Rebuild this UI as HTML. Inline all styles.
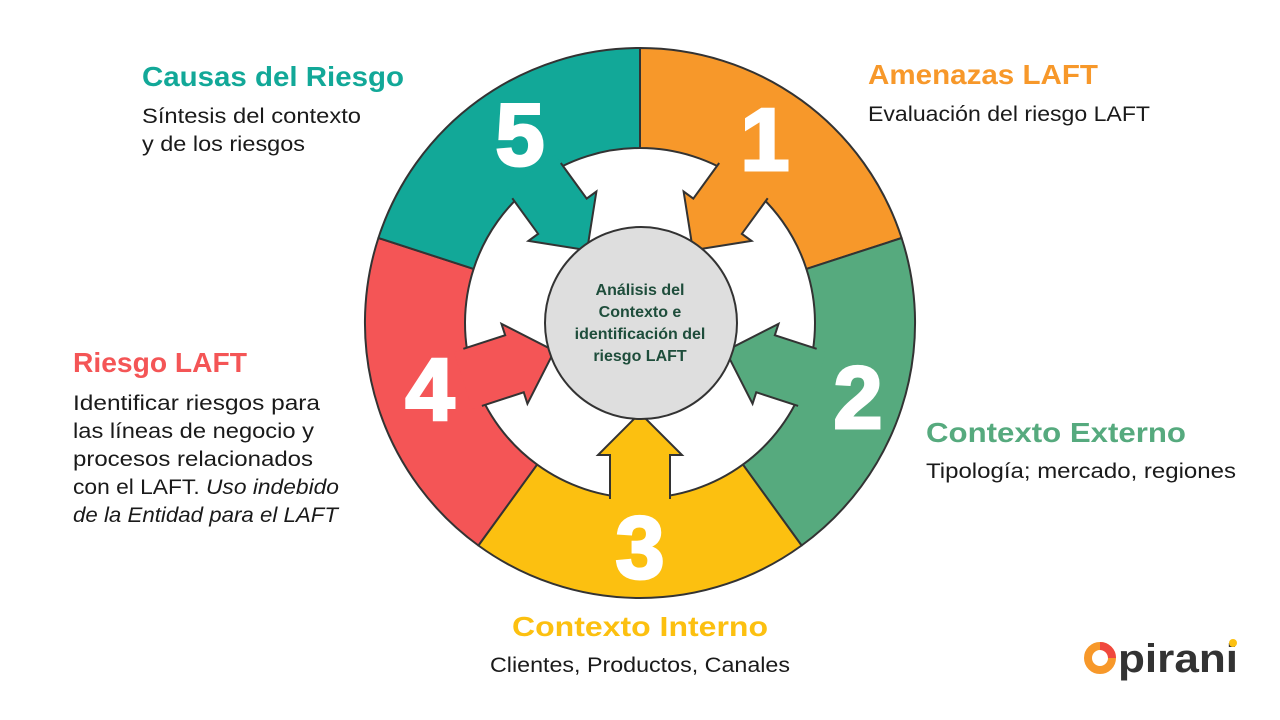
<!DOCTYPE html>
<html><head><meta charset="utf-8"><style>
html,body{margin:0;padding:0;background:#fff;}
svg{display:block;font-family:"Liberation Sans",sans-serif;}
.t{font-weight:bold;font-size:28px;}
.b{font-size:21px;fill:#1a1a1a;}
</style></head><body>
<svg width="1280" height="720" viewBox="0 0 1280 720">
<g stroke="#333" stroke-width="2" stroke-linejoin="round">
<path d="M640,48 A275,275 0 0 1 901.6,238 L806.4,268.9 A175,175 0 0 0 640,148 Z" fill="#F7982A"/>
<path d="M901.6,238 A275,275 0 0 1 801.6,545.5 L742.9,464.6 A175,175 0 0 0 806.4,268.9 Z" fill="#56AA7E"/>
<path d="M801.6,545.5 A275,275 0 0 1 478.4,545.5 L537.1,464.6 A175,175 0 0 0 742.9,464.6 Z" fill="#FCC010"/>
<path d="M478.4,545.5 A275,275 0 0 1 378.4,238 L473.6,268.9 A175,175 0 0 0 537.1,464.6 Z" fill="#F45556"/>
<path d="M378.4,238 A275,275 0 0 1 640,48 L640,148 A175,175 0 0 0 473.6,268.9 Z" fill="#12A898"/>
</g>
<defs>
<g id="af"><path d="M-30,186 L-30,132 L-42,132 L0,90 L42,132 L30,132 L30,186 Z"/></g>
<g id="as"><path d="M-30,176 L-30,132 L-42,132 L0,90 L42,132 L30,132 L30,176" fill="none" stroke="#333" stroke-width="2" stroke-linejoin="miter"/></g>
</defs>
<g transform="translate(640,323)">
<g fill="#F7982A" transform="rotate(-144)"><use href="#af"/><use href="#as"/></g>
<g fill="#56AA7E" transform="rotate(-72)"><use href="#af"/><use href="#as"/></g>
<g fill="#FCC010"><use href="#af"/><use href="#as"/></g>
<g fill="#F45556" transform="rotate(72)"><use href="#af"/><use href="#as"/></g>
<g fill="#12A898" transform="rotate(144)"><use href="#af"/><use href="#as"/></g>
</g>
<circle cx="641" cy="323" r="96" fill="#DEDEDE" stroke="#333" stroke-width="2"/>
<g font-size="16" font-weight="bold" fill="#1E4D3B" text-anchor="middle">
<text x="640" y="295">Análisis del</text>
<text x="640" y="317">Contexto e</text>
<text x="640" y="339">identificación del</text>
<text x="640" y="361">riesgo LAFT</text>
</g>
<g font-size="88" font-weight="900" fill="#fff" text-anchor="middle" stroke="#fff" stroke-width="3">
<text x="765" y="170">1</text>
<text x="520" y="165">5</text>
<text x="858" y="428">2</text>
<text x="640" y="578">3</text>
<text x="430" y="420">4</text>
</g>
<text class="t" x="142" y="86" fill="#12A898" textLength="262" lengthAdjust="spacingAndGlyphs">Causas del Riesgo</text>
<text class="b" x="142" y="123" textLength="219" lengthAdjust="spacingAndGlyphs">Síntesis del contexto</text>
<text class="b" x="142" y="151" textLength="163" lengthAdjust="spacingAndGlyphs">y de los riesgos</text>
<text class="t" x="868" y="84" fill="#F7982A" textLength="230" lengthAdjust="spacingAndGlyphs">Amenazas LAFT</text>
<text class="b" x="868" y="121" textLength="282" lengthAdjust="spacingAndGlyphs">Evaluación del riesgo LAFT</text>
<text class="t" x="73" y="372" fill="#F45556" textLength="174" lengthAdjust="spacingAndGlyphs">Riesgo LAFT</text>
<text class="b" x="73" y="410" textLength="247" lengthAdjust="spacingAndGlyphs">Identificar riesgos para</text>
<text class="b" x="73" y="438" textLength="241" lengthAdjust="spacingAndGlyphs">las líneas de negocio y</text>
<text class="b" x="73" y="466" textLength="240" lengthAdjust="spacingAndGlyphs">procesos relacionados</text>
<text class="b" x="73" y="494" textLength="266" lengthAdjust="spacingAndGlyphs">con el LAFT. <tspan font-style="italic">Uso indebido</tspan></text>
<text class="b" x="73" y="522" font-style="italic" textLength="265" lengthAdjust="spacingAndGlyphs">de la Entidad para el LAFT</text>
<text class="t" x="926" y="442" fill="#56AA7E" textLength="260" lengthAdjust="spacingAndGlyphs">Contexto Externo</text>
<text class="b" x="926" y="478" textLength="310" lengthAdjust="spacingAndGlyphs">Tipología; mercado, regiones</text>
<text class="t" x="512" y="636" fill="#FCC010" textLength="256" lengthAdjust="spacingAndGlyphs">Contexto Interno</text>
<text class="b" x="490" y="672" textLength="300" lengthAdjust="spacingAndGlyphs">Clientes, Productos, Canales</text>
<circle cx="1100" cy="658" r="12" fill="none" stroke="#F7982A" stroke-width="8"/>
<path d="M1100,646 A12,12 0 0 1 1112,658" fill="none" stroke="#F0483E" stroke-width="8"/>
<text x="1118" y="672" font-size="40" font-weight="bold" fill="#333" textLength="120" lengthAdjust="spacingAndGlyphs">pirani</text>
<circle cx="1233" cy="643" r="4" fill="#FCC010"/>
</svg>
</body></html>
